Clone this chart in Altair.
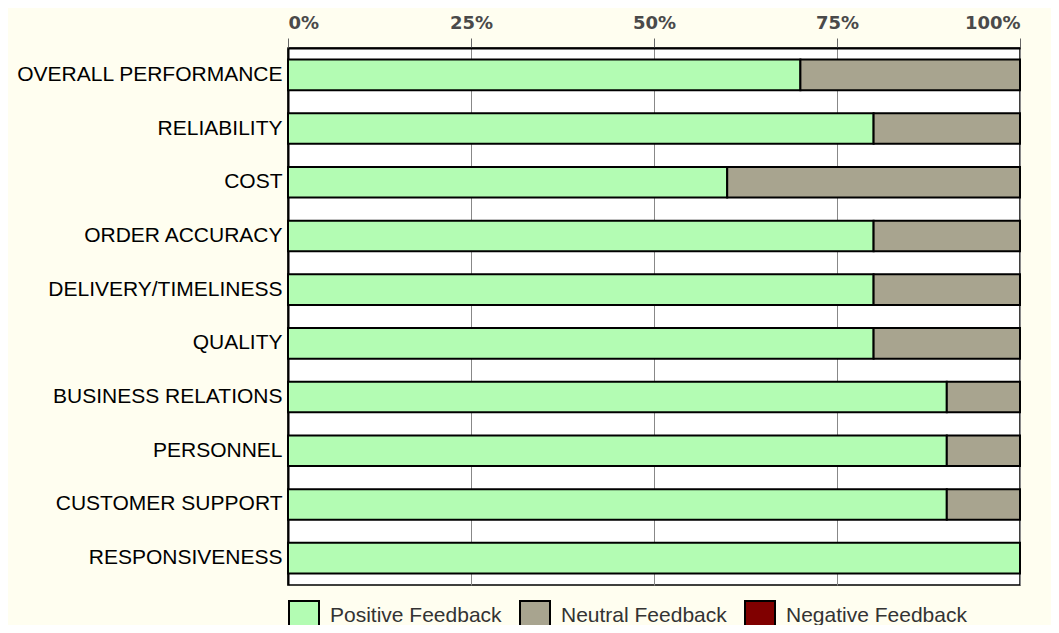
import altair as alt
import pandas as pd

categories = [
    "OVERALL PERFORMANCE", "RELIABILITY", "COST", "ORDER ACCURACY",
    "DELIVERY/TIMELINESS", "QUALITY", "BUSINESS RELATIONS", "PERSONNEL",
    "CUSTOMER SUPPORT", "RESPONSIVENESS",
]
positive = [70, 80, 60, 80, 80, 80, 90, 90, 90, 100]
neutral = [30, 20, 40, 20, 20, 20, 10, 10, 10, 0]
negative = [0, 0, 0, 0, 0, 0, 0, 0, 0, 0]

series = ["Positive Feedback", "Neutral Feedback", "Negative Feedback"]
colors = ["#B3FCB3", "#A8A48F", "#800000"]

rows = []
for i, c in enumerate(categories):
    for k, (s, vals) in enumerate(zip(series, [positive, neutral, negative])):
        rows.append({"category": c, "series": s, "value": vals[i], "order": k})
df = pd.DataFrame(rows)

chart = (
    alt.Chart(df)
    .transform_filter("datum.value > 0")
    .mark_bar(stroke="#000000", strokeWidth=2)
    .encode(
        y=alt.Y(
            "category:N",
            sort=categories,
            title=None,
            scale=alt.Scale(paddingInner=0.43, paddingOuter=0.215),
            axis=alt.Axis(
                domainColor="#000000", domainWidth=2, ticks=False,
                labelFont="Liberation Sans", labelFontSize=21, labelColor="#000000",
                labelPadding=6, labelLimit=300,
            ),
        ),
        x=alt.X(
            "value:Q",
            stack="zero",
            title=None,
            scale=alt.Scale(domain=[0, 100], nice=False),
            axis=alt.Axis(
                orient="top", values=[0, 25, 50, 75, 100],
                labelExpr="datum.value + '%'",
                labelFont="DejaVu Sans", labelFontSize=18, labelFontWeight="bold",
                labelColor="#4a4a4a", labelPadding=6,
                domainColor="#000000", domainWidth=2,
                tickColor="#666666", tickSize=10, tickWidth=1,
                grid=True, gridColor="#888888", gridWidth=1,
            ),
        ),
        color=alt.Color(
            "series:N",
            scale=alt.Scale(domain=series, range=colors),
            legend=alt.Legend(
                title=None, orient="none", legendX=0, legendY=552,
                direction="horizontal", symbolType="square", symbolSize=900,
                symbolStrokeColor="#000000", symbolStrokeWidth=2,
                symbolOpacity=1, labelFont="Liberation Sans", labelFontSize=21,
                labelColor="#333333", labelOffset=10, columnPadding=14,
                labelLimit=300,
            ),
        ),
        order=alt.Order("order:Q"),
    )
    .properties(
        width=732,
        height=537,
        background="#FFFEF0",
        autosize=alt.AutoSizeParams(type="none"),
        padding={"left": 280, "top": 40, "right": 31, "bottom": 40},
    )
    .configure_view(fill="#FFFFFF", stroke="#000000", strokeWidth=1.5)
)

chart.save("out.html", embed_options={"renderer": "svg", "actions": False})
